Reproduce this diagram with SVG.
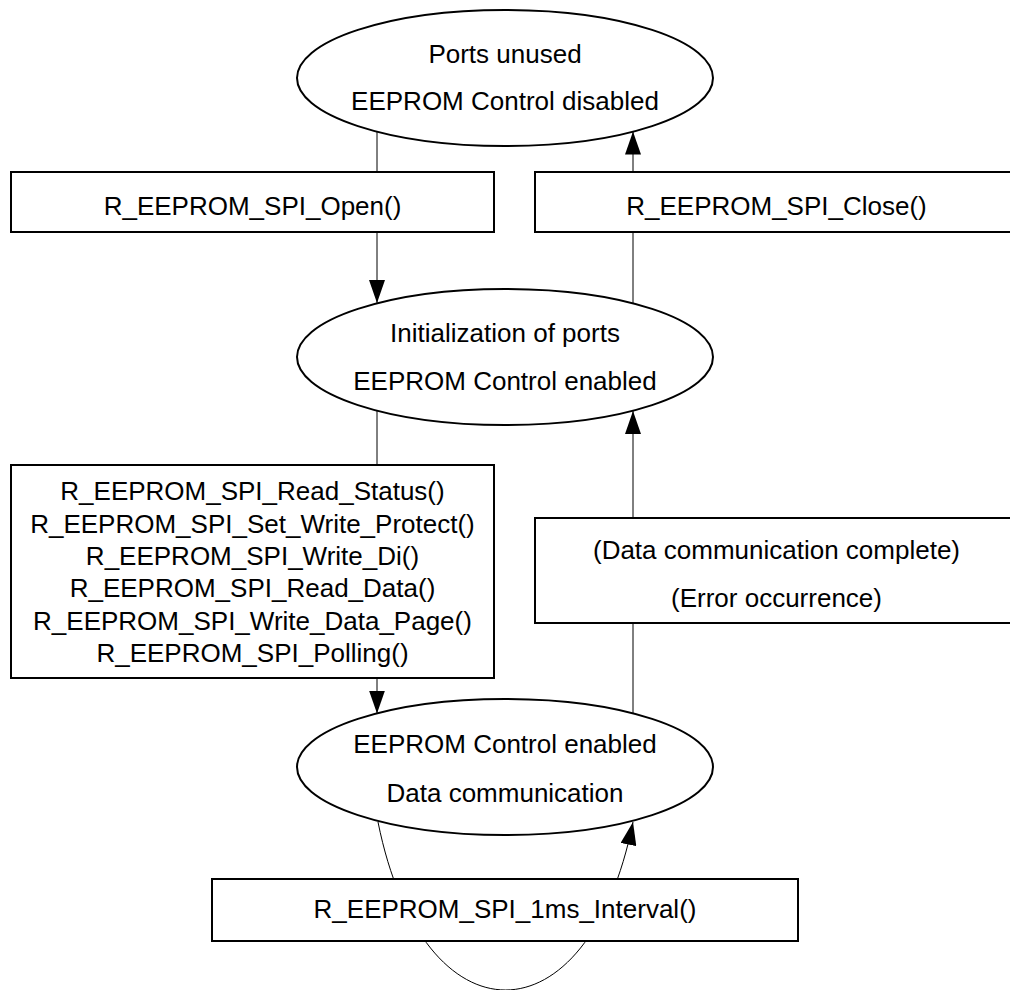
<svg xmlns="http://www.w3.org/2000/svg" width="1010" height="990" viewBox="0 0 1010 990">
<style>
.node{fill:#fff;stroke:#000;stroke-width:2}
.edge{fill:none;stroke:#000;stroke-width:1}
text{font-family:"Liberation Sans",Arial,sans-serif;font-size:26px;fill:#000;text-anchor:middle}
</style>
<defs>
<marker id="arr" markerUnits="userSpaceOnUse" markerWidth="23" markerHeight="16" refX="23" refY="8" orient="auto" viewBox="0 0 23 16">
<path d="M0,0 L23,8 L0,16 z" fill="#000"/>
</marker>
</defs>
<rect width="1010" height="990" fill="#fff"/>
<g id="connectors">
<line class="edge" x1="377" y1="131.6" x2="377" y2="303" marker-end="url(#arr)"/>
<line class="edge" x1="633" y1="303" x2="633" y2="131.6" marker-end="url(#arr)"/>
<line class="edge" x1="377" y1="411" x2="377" y2="713.5" marker-end="url(#arr)"/>
<line class="edge" x1="633" y1="713.5" x2="633" y2="411" marker-end="url(#arr)"/>
<path class="edge" d="M378,822 C423,1046 588,1046 633,822" marker-end="url(#arr)"/>
</g>
<g id="state-unused">
<ellipse class="node" cx="505" cy="78" rx="208" ry="68"/>
<text x="505" y="63">Ports unused</text>
<text x="505" y="110">EEPROM Control disabled</text>
</g>
<g id="op-open">
<rect class="node" x="11" y="172" width="483" height="60"/>
<text x="252.5" y="215">R_EEPROM_SPI_Open()</text>
</g>
<g id="op-close">
<rect class="node" x="535" y="172" width="483" height="60"/>
<text x="776.5" y="215">R_EEPROM_SPI_Close()</text>
</g>
<g id="state-init">
<ellipse class="node" cx="505" cy="357" rx="208" ry="68"/>
<text x="505" y="342">Initialization of ports</text>
<text x="505" y="390">EEPROM Control enabled</text>
</g>
<g id="op-functions">
<rect class="node" x="11" y="465" width="483" height="213"/>
<text x="252.5" y="500">R_EEPROM_SPI_Read_Status()</text>
<text x="252.5" y="533">R_EEPROM_SPI_Set_Write_Protect()</text>
<text x="252.5" y="565">R_EEPROM_SPI_Write_Di()</text>
<text x="252.5" y="597">R_EEPROM_SPI_Read_Data()</text>
<text x="252.5" y="630">R_EEPROM_SPI_Write_Data_Page()</text>
<text x="252.5" y="662">R_EEPROM_SPI_Polling()</text>
</g>
<g id="op-complete">
<rect class="node" x="535" y="518" width="483" height="105"/>
<text x="776.5" y="559">(Data communication complete)</text>
<text x="776.5" y="607">(Error occurrence)</text>
</g>
<g id="state-comm">
<ellipse class="node" cx="505" cy="767" rx="208" ry="68"/>
<text x="505" y="753">EEPROM Control enabled</text>
<text x="505" y="802">Data communication</text>
</g>
<g id="op-interval">
<rect class="node" x="212" y="879" width="586" height="62"/>
<text x="505" y="918">R_EEPROM_SPI_1ms_Interval()</text>
</g>
</svg>
